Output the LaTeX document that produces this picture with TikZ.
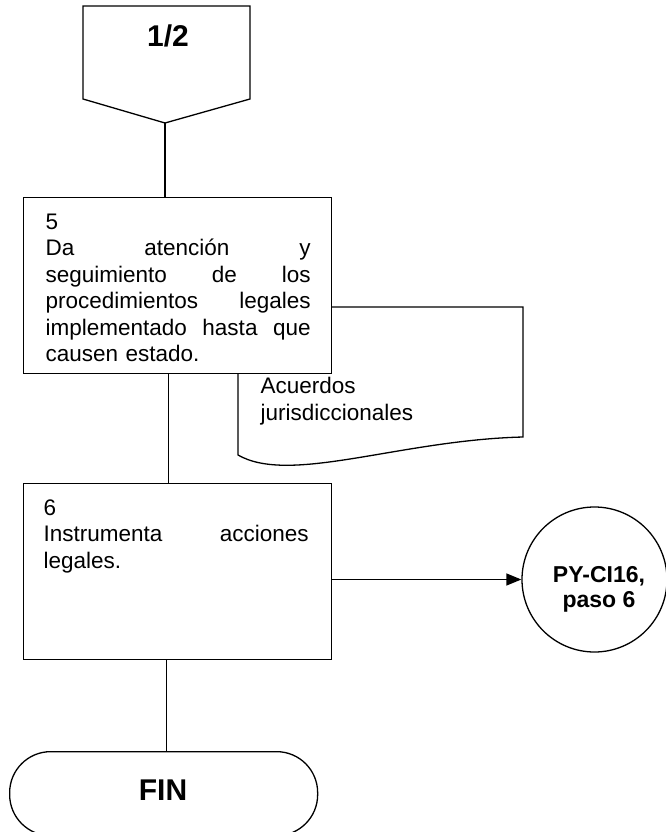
\documentclass[tikz,border=0pt]{standalone}
\usepackage{fontspec}
\setmainfont{Liberation Sans}
\usetikzlibrary{arrows.meta}
\begin{document}
\begin{tikzpicture}[x=1pt, y=-1pt, line width=1.3pt,
  stepbox/.style={draw, fill=white, rectangle, inner sep=0pt, anchor=north west,
    minimum width=308pt, minimum height=176pt},
  bodytext/.style={inner sep=0pt, anchor=north west, text width=265pt, align=left,
    font=\fontsize{22.5}{26.5}\selectfont},
  doctext/.style={inner sep=0pt, anchor=north west, align=left,
    font=\fontsize{22.5}{27}\selectfont},
  boldlabel/.style={inner sep=0pt, anchor=base, font=\bfseries\fontsize{30}{34}\selectfont},
  linktip/.style={-{Triangle[length=15pt, width=12pt]}}
]
\useasboundingbox (0,0) rectangle (665,832);

% off-page connector
\draw (83,6) -- (250,6) -- (250,99) -- (165,123) -- (83,99) -- cycle;
\coordinate (tip) at (165,123);
\node[boldlabel] (pagelabel) at (168,47) {1/2};

% document symbol, partly hidden behind step 5
\draw[fill=white] (238,455) -- (238,307) -- (523,307) -- (523,437)
  .. controls (400,440) and (290,485) .. cycle;
\node[doctext] (doclabel) at (260,377) {Acuerdos\\jurisdiccionales};

% step 5
\node[stepbox] (b5) at (23,197) {};
\node[bodytext] (t5) at (45,213) {5\\
Da\hfill atención\hfill y\\
seguimiento\hfill de\hfill los\\
procedimientos\hfill legales\\
implementado\hfill hasta\hfill que\\
causen estado.};

% step 6
\node[stepbox] (b6) at (23,483) {};
\node[bodytext] (t6) at (43,499) {6\\
Instrumenta\hfill acciones\\
legales.};

% connector to another procedure
\node[draw, circle, minimum size=145pt, inner sep=0pt] (ext) at (594.5,579.5) {};
\node[inner sep=0pt, align=center, font=\bfseries\fontsize{23}{25}\selectfont] (exttext) at (599,589) {PY-CI16,\\paso 6};

% end terminal
\node[draw, rectangle, rounded corners=41pt, minimum width=308pt, minimum height=84pt,
  inner sep=0pt, anchor=north west] (fin) at (9,751) {};
\node[boldlabel] (fintext) at (163,800) {FIN};

% flow lines
\draw (tip) -- (tip |- b5.north);
\draw ([xshift=-9pt]b5.south) -- ([xshift=-9pt]b6.north);
\draw ([xshift=-11pt]b6.south) -- ([xshift=3pt]fin.north);
\draw[linktip] (b6.east |- ext) -- (ext.west);
\end{tikzpicture}
\end{document}
